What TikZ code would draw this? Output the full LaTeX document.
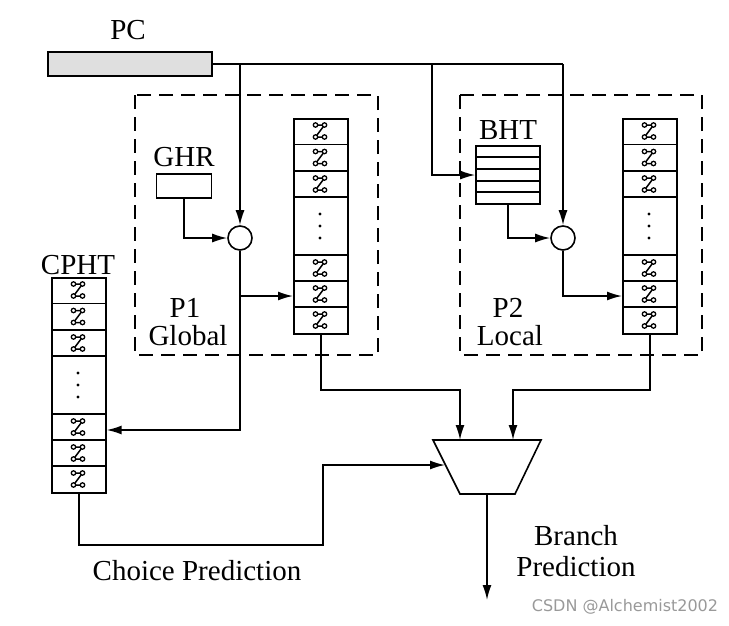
\documentclass[tikz,border=0pt]{standalone}
\usepackage{fontspec}
\setmainfont{Liberation Serif}
\newfontfamily\wmfont{DejaVu Sans}
\usetikzlibrary{arrows.meta}
\begin{document}
\begin{tikzpicture}[x=1pt,y=-1pt,line width=1.6pt,
  lbl/.style={font=\fontsize{29}{31}\selectfont,inner sep=0pt},
  arr/.style={-{Latex[length=15pt,width=9pt]}},
  dbox/.style={dash pattern=on 14pt off 8pt,line width=1.5pt},
  cnt/.pic={\draw[line width=1.5pt] (-4.5,-6)--(4.5,-6)--(-4.5,6)--(4.5,6);
    \foreach \p in {(-4.5,-6),(4.5,-6),(-4.5,6),(4.5,6)} \draw[fill=white,line width=1.3pt] \p circle (2.2pt);}]
\useasboundingbox (0,0) rectangle (729,625);
% PC
\node[lbl] (pclbl) at (128,30) {PC};
\node[draw,fill=gray!25,minimum width=164pt,minimum height=24pt,inner sep=0pt] (pc) at (130,64) {};
% dashed boxes
\draw[dbox] (135,95) rectangle (378,355);
\draw[dbox] (460,95) rectangle (702,355);
% GHR
\node[lbl] (ghrl) at (184,157) {GHR};
\node[draw,minimum width=55pt,minimum height=24pt,inner sep=0pt] (ghr) at (184,186) {};
\node[draw,circle,minimum size=24pt,inner sep=0pt] (c1) at (240,238) {};
\node[draw,circle,minimum size=24pt,inner sep=0pt] (c2) at (563,238) {};
% BHT
\node[lbl] (bhtl) at (508,130) {BHT};
\node[draw,minimum width=64pt,minimum height=58pt,inner sep=0pt] (bht) at (508,175) {};
\foreach \y in {157,169,181,192} \draw (476,\y)--(540,\y);
% tables
\newcommand{\mytable}[4]{% name, x left, y top, width
  \begin{scope}[shift={(#2,#3)}]
  \node[draw,minimum width=#4pt,minimum height=215pt,inner sep=0pt,anchor=north west] (#1) at (0,0) {};
  \foreach \y in {26.5,53,79,137,163,189} \draw (0,\y)--(#4,\y);
  \foreach \y in {13,39.5,66,150,176,202} \pic at (#4/2,\y) {cnt};
  \foreach \y in {96,108,120} \fill (#4/2,\y) circle (1.6pt);
  \end{scope}}
\mytable{t1}{293}{118}{54}
\mytable{t2}{622}{118}{54}
\mytable{cp}{51}{277}{54}
\node[lbl] (cphtl) at (78,265) {CPHT};
% labels
\node[lbl] (p1) at (185,308) {P1};
\node[lbl] (gl) at (188,336) {Global};
\node[lbl] (p2) at (508,308) {P2};
\node[lbl] (lo) at (510,336) {Local};
% mux
\draw (433,440) coordinate (mtl) -- (541,440) coordinate (mtr) -- (515,494) -- (460,494) -- cycle;
\coordinate (mout) at (487,494);
\coordinate (mleft) at (445,465);
% connectors
\draw (pc.east) -- (563,64);
\draw[arr] (240,64) -- (c1.north);
\draw[arr] (432,64) |- (bht.west);
\draw[arr] (563,64) -- (c2.north);
\draw[arr] (ghr.south) |- (c1.west);
\draw[arr] (bht.south) |- (c2.west);
\draw[arr] (c1.south) |- (cp.east |- 0,430);
\draw[arr] (240,296) -- (t1.west |- 0,296);
\draw[arr] (c2.south) |- (t2.west |- 0,296);
\draw[arr] (t1.south) |- (460,390) -- (460,440);
\draw[arr] (t2.south) |- (513,390) -- (513,440);
\draw[arr] (cp.south) |- (323,545) |- (mleft);
\draw[arr] (mout) -- (487,600);
\node[lbl] (cpl) at (197,571) {Choice Prediction};
\node[lbl,align=center] (bp) at (576,551) {Branch\\Prediction};
\node[font=\wmfont\fontsize{16}{18}\selectfont,text=gray!80,inner sep=0pt] (wm) at (625,607) {CSDN @Alchemist2002};
\end{tikzpicture}
\end{document}
